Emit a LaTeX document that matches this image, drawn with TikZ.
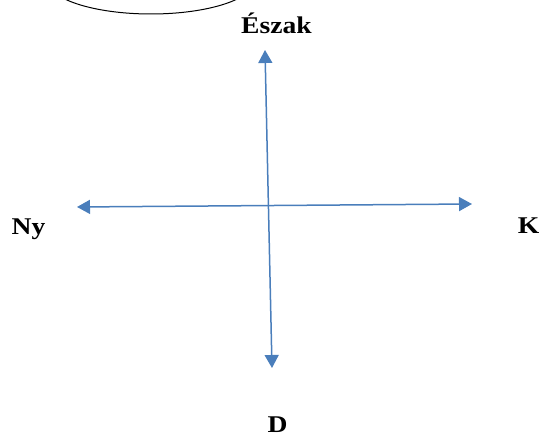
\documentclass[tikz,border=0pt]{standalone}
\usepackage{fontspec}
\setmainfont{Liberation Serif}
\usetikzlibrary{arrows.meta}
\definecolor{arrowblue}{RGB}{74,126,187}
\tikzset{
  dirlabel/.style={inner sep=0pt, anchor=base, font=\fontsize{24}{24}\selectfont\bfseries},
  compass/.style={draw=arrowblue, line width=1.5pt,
    {Triangle[width=14pt,length=13pt]}-{Triangle[width=14pt,length=13pt]}, arrowblue},
  oval/.style={draw=black, line width=1pt}
}
\newcommand{\wide}[1]{\scalebox{1.15}[1]{#1}}
\begin{document}
\begin{tikzpicture}[x=1pt,y=-1pt]
\useasboundingbox (0,0) rectangle (544,443);
\begin{scope}
\clip (0,0) rectangle (544,443);
\draw[oval] (151,-20) ellipse [x radius=104, y radius=34];
\end{scope}
\coordinate (n) at (265,50);
\coordinate (s) at (272,368);
\coordinate (w) at (77,207);
\coordinate (e) at (472,204);
\draw[compass] (n) -- (s);
\draw[compass] (w) -- (e);
\node[dirlabel] (eszak) at (276.5,34) {\wide{Észak}};
\node[dirlabel] (ny) at (28.5,235) {\wide{Ny}};
\node[dirlabel] (k) at (528.5,233.5) {\wide{K}};
\node[dirlabel] (d) at (277.5,433) {\wide{D}};
\end{tikzpicture}
\end{document}
